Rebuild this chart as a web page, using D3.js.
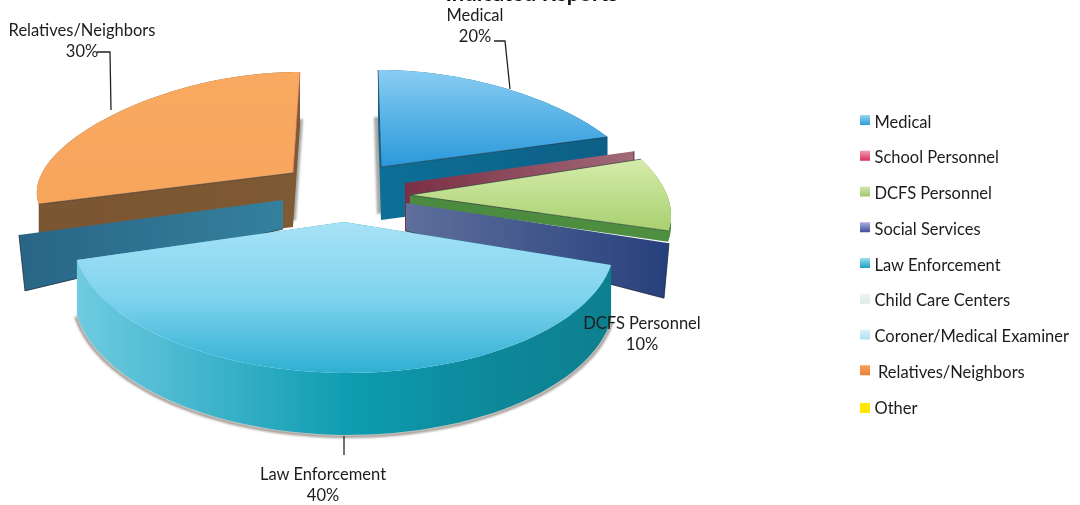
<!DOCTYPE html>
<html><head><meta charset="utf-8">
<script src="https://cdn.jsdelivr.net/npm/d3@7"></script>
<style>html,body{margin:0;padding:0;background:#fff;overflow:hidden}text{font-family:Lato,"Open Sans",sans-serif;fill:#1c1c1c}</style>
</head><body><svg id="c" width="1080" height="505"></svg>
<script>
const categories = ["Medical","School Personnel","DCFS Personnel","Social Services","Law Enforcement","Child Care Centers","Coroner/Medical Examiner","Relatives/Neighbors","Other"];
const values = [20,0,10,0,40,0,0,30,0];
const titleText = "Indicated Reports";
const labelled = ["Medical","DCFS Personnel","Law Enforcement","Relatives/Neighbors"];

// presentation
const topColors = {"Medical":["#88cdf3","#2a98da"],"DCFS Personnel":["#d6ecaa","#a8d070"],"Law Enforcement":["#a8e2f6","#7fd4ee","#2fafd2"],"Relatives/Neighbors":["#f9a962","#f8a55c"]};
const sideColors = {"Medical":["#0f6f96","#0c5f86"],"School Personnel":["#7a2f45","#a06a78"],"DCFS Personnel":["#4b8a40","#4f8f3f"],"Social Services":["#5f6f9c","#27407c"],"Law Enforcement":["#6fcbe0","#3fb4cb","#109db2","#0e8a9c","#0e7f8f"],"Child Care Centers":["#2a6586","#34809e"],"Coroner/Medical Examiner":["#2a6586","#34809e"],"Relatives/Neighbors":["#7a5630","#7e5a34"]};
const legendColors = [["#9ad6f2","#2a9bd8"],["#f29ab0","#d8305e"],["#d6e8b0","#9cc768"],["#a8b0e0","#404c9c"],["#9adff0","#20a0c4"],["#eef6f0","#dcece4"],["#e0f3fa","#aadff0"],["#f4a060","#ec8034"],["#ffe800","#ffe400"]];
// geometry of each exploded piece: apex, radii, lean, depth at apex and at rim
const geo = {
 "Medical":{ax:381,ay:167,rx:253,ry:97,lean:3,d0:53,d1:53,shadow:[-4,47]},
 "School Personnel":{ax:405,ay:183,rx:255,ry:103,lean:0,d0:48,d1:48},
 "DCFS Personnel":{ax:410,ay:195,rx:257,ry:116,lean:0,d0:10,d1:11},
 "Social Services":{ax:406,ay:203,rx:262,ry:130,lean:0,d0:28,d1:55,dx1:-5},
 "Law Enforcement":{ax:344,ay:222,rx:266,ry:122,ky:.237,tilt:2.6,lean:0,d0:60,d1:52,dv:10},
 "Child Care Centers":{ax:283,ay:200,rx:263,ry:113,lean:0,d0:29,d1:56,dx1:6},
 "Relatives/Neighbors":{ax:293,ay:173,rx:251,ry:101,lean:-7,d0:54,d1:54,shadow:[3,47]}
};
const persp = 0.18;
const paintOrder = ["Medical","School Personnel","DCFS Personnel","Relatives/Neighbors","Child Care Centers","Social Services","Law Enforcement"];
const labelPos = {"Medical":[475,21],"DCFS Personnel":[642,329],"Law Enforcement":[323,480],"Relatives/Neighbors":[82,36]};
const leaders = {"Medical":[[494,41],[505,41],[510,89]],"Relatives/Neighbors":[[97,52],[110,52],[111,110]],"Law Enforcement":[[344,436],[344,455]]};

const svg = d3.select("#c");
const defs = svg.append("defs");
defs.append("filter").attr("id","soft").append("feGaussianBlur").attr("stdDeviation",0.45);
defs.append("filter").attr("id","blur").attr("x","-10%").attr("y","-10%").attr("width","120%").attr("height","120%").append("feGaussianBlur").attr("stdDeviation",1.3);

const pie = d3.pie().sort(null).value(d=>d.value);
const arcs = pie(categories.map((name,i)=>({name,value:values[i]})));
const byName = new Map(arcs.map(a=>[a.data.name,a]));
const project = (g,a)=>{const u=Math.sin(a),v=-Math.cos(a);return [g.ax+g.rx*u*(1+persp*v)+g.lean*v, g.ay+g.ry*v*(1+(g.ky||0)*v)+(g.tilt||0)*u];};
const rimDepth = (g,a)=>g.d1+(g.dv||0)*(-Math.cos(a));
const line = d3.line();
const rim = (g,a0,a1)=>d3.range(0,61).map(i=>a0+(a1-a0)*i/60);
const drop = (p,d,dx)=>[p[0]+(dx||0),p[1]+d];

function grad(id,c,horizontal,box){
  const lg=defs.append("linearGradient").attr("id",id).attr("gradientUnits","userSpaceOnUse")
    .attr("x1",box[0]).attr("y1",box[1]).attr("x2",horizontal?box[2]:box[0]).attr("y2",horizontal?box[1]:box[3]);
  lg.selectAll("stop").data(c).join("stop").attr("offset",(d,i)=>i/(c.length-1)).attr("stop-color",d=>d);
  return `url(#${id})`;
}

const pieG = svg.append("g").attr("filter","url(#soft)");
const shadowG = pieG.append("g");

paintOrder.forEach((name,idx)=>{
  const a=byName.get(name), g=geo[name];
  const apex=[g.ax,g.ay];
  if(a.value===0){
    const e=project(g,a.startAngle);
    const xs=[apex[0],e[0]].sort(d3.ascending);
    const f=grad("w"+idx,sideColors[name],true,[xs[0],0,xs[1],0]);
    const pts=[apex,e,drop(e,g.d1,g.dx1),drop(apex,g.d0)];
    pieG.append("path").attr("d",line(pts)+"Z").attr("fill",f);
    pieG.append("path").attr("d",line([drop(apex,g.d0),drop(e,g.d1,g.dx1),e])).attr("fill","none").attr("stroke","#16202e").attr("stroke-width",1).attr("opacity",.7);
    return;
  }
  const ts=rim(g,a.startAngle,a.endAngle);
  const r=ts.map(t=>project(g,t));
  const top=[apex,...r];
  const xe=d3.extent(top,p=>p[0]), ye=d3.extent(top,p=>p[1]);
  const sideFill=grad("s"+idx,sideColors[name],true,[xe[0],0,xe[1],0]);
  if(g.shadow) shadowG.append("path").attr("d",line(top.map(p=>[p[0]+g.shadow[0],p[1]+g.shadow[1]]))+"Z").attr("fill","#a8a8a6").attr("filter","url(#blur)");
  if(name==="Law Enforcement"){
    const low=ts.map((t,i)=>drop(r[i],rimDepth(g,t)));
    shadowG.append("path").attr("d",line(low.map(p=>[p[0]+(p[0]<g.ax?-1:1),p[1]+1.5]))).attr("fill","none").attr("stroke","#a09690").attr("stroke-width",3).attr("filter","url(#blur)");
  }
  [a.startAngle,a.endAngle].forEach(t=>{
    const e=project(g,t);
    pieG.append("path").attr("d",line([apex,e,drop(e,rimDepth(g,t)),drop(apex,g.d0)])+"Z").attr("fill",sideFill);
  });
  pieG.append("path").attr("d",line([...r,...ts.map((t,i)=>drop(r[i],rimDepth(g,t))).reverse()])+"Z").attr("fill",sideFill);
  const tf=grad("t"+idx,topColors[name],false,[0,ye[0],0,ye[1]]);
  pieG.append("path").attr("d",line(top)+"Z").attr("fill",tf);
  if(name!=="Law Enforcement"){
    [a.startAngle,a.endAngle].forEach((t,i)=>{
      const e=project(g,t);
      pieG.append("path").attr("d",line([apex,e])).attr("fill","none")
        .attr("stroke",name==="Relatives/Neighbors"&&i===1?"#d86a60":"#1a2a36").attr("stroke-width",.8).attr("opacity",.7);
    });
  }
});

// leaders and data labels
const labelG=svg.append("g").attr("filter","url(#soft)");
Object.values(leaders).forEach(p=>labelG.append("path").attr("d",line(p)).attr("fill","none").attr("stroke","#222").attr("stroke-width",1.3));
const total=d3.sum(values);
labelled.forEach(name=>{
  const [x,y]=labelPos[name];
  const v=byName.get(name).value;
  const t=labelG.append("text").attr("x",x).attr("y",y).attr("text-anchor","middle").attr("font-size",16.5);
  t.append("tspan").attr("x",x).text(name);
  t.append("tspan").attr("x",x).attr("dy",21).text(d3.format(".0%")(v/total));
});

// title, cut by the top edge as in the reference
labelG.append("text").attr("x",618).attr("y",1).attr("text-anchor","end").attr("font-size",22).attr("font-weight",700).style("fill","#111").text(titleText);

// legend
const legendY=d3.scalePoint().domain(categories).range([122,408]);
const leg=labelG.append("g").selectAll("g").data(categories).join("g");
leg.append("rect").attr("x",860).attr("y",d=>legendY(d)-(d==="Other"?5:7)).attr("width",10).attr("height",10)
  .attr("fill",(d,i)=>{const y=legendY(d);return grad("lg"+i,legendColors[i],false,[0,y-7,0,y+3]);});
leg.append("text").attr("x",d=>d==="Relatives/Neighbors"?878:874.5).attr("y",d=>legendY(d)+5.5).attr("font-size",16.5).text(d=>d);
</script></body></html>
